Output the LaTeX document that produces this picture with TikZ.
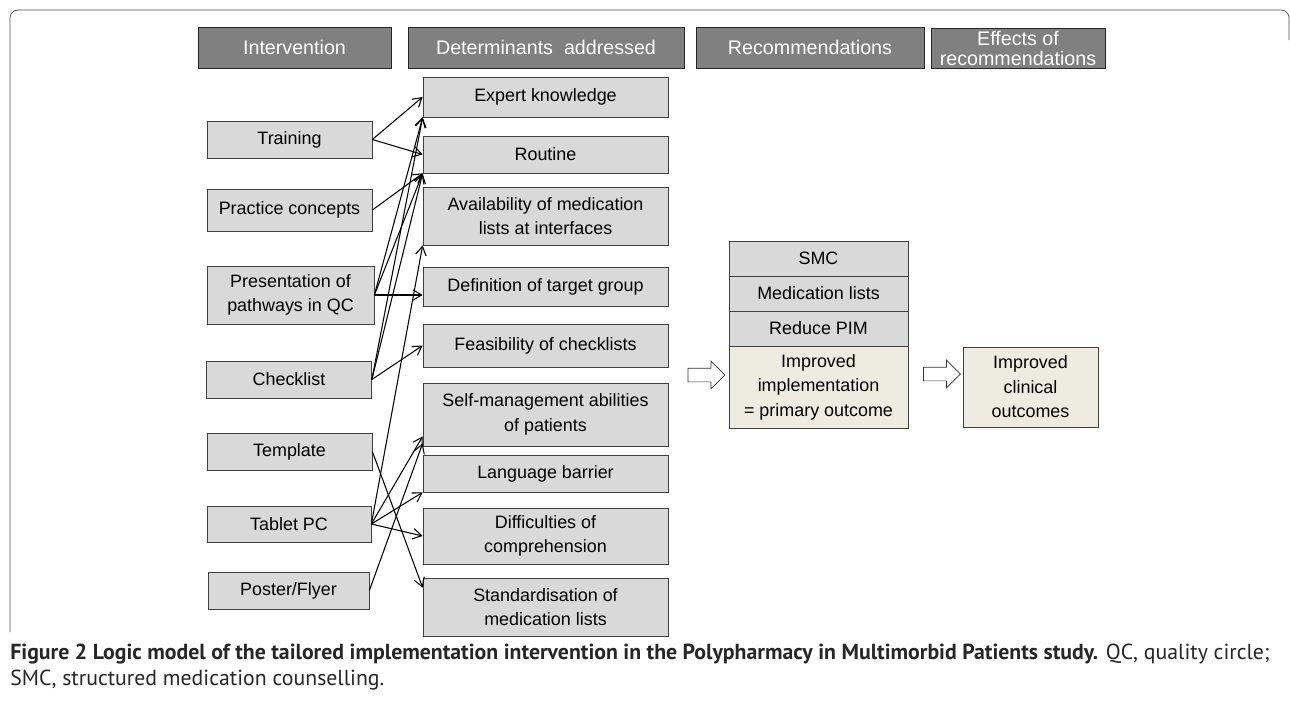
\documentclass[tikz,border=0pt]{standalone}
\usepackage{fontspec}
\setmainfont{Liberation Sans}
\newfontfamily\capfont{PT Sans}
\usetikzlibrary{arrows.meta,shapes.arrows}
\definecolor{hdrgray}{RGB}{128,128,128}
\definecolor{boxgray}{RGB}{217,217,217}
\definecolor{beige}{RGB}{238,236,225}

\begin{document}
\begin{tikzpicture}[x=0.02cm,y=-0.02cm,
  sz/.style 2 args={minimum width=#1*0.02cm,minimum height=#2*0.02cm},
  hdr/.style={draw=black!85,fill=hdrgray,text=white,inner sep=0pt,font=\fontsize{11.2}{11.4}\selectfont},
  box/.style={draw=black!75,fill=boxgray,inner sep=0pt,align=center,font=\fontsize{10.2}{13.9}\selectfont},
  outc/.style={box,fill=beige},
  lnk/.style={-{Straight Barb[length=5pt,width=6pt]},semithick},
  hollow/.style={single arrow,draw=black!80,fill=white,inner sep=0.13cm,minimum width=0pt,
    minimum height=0.74cm,single arrow head extend=0.14cm}]
\useasboundingbox (0,0) rectangle (1290,703);

\draw[black!70,rounded corners=0.16cm] (10,632) -- (10,10) -- (1289,10) -- (1289,40);

\node[hdr,sz={193}{41}] (hint) at (294.5,47.5) {Intervention\hspace{0.45cm}};
\node[hdr,sz={276}{41}] (hdet) at (546,47.5) {Determinants\ \ addressed\hspace{0.5cm}};
\node[hdr,sz={228}{41}] (hrec) at (810,47.5) {Recommendations\hspace{0.5cm}};
\node[hdr,sz={174}{40},align=center] (heff) at (1018,48) {Effects of\\recommendations};

\node[box,sz={165}{37}] (train) at (289.5,139.5) {Training};
\node[box,sz={165}{42}] (pract) at (289.5,210) {Practice concepts};
\node[box,sz={167}{58}] (pres) at (290.5,295) {Presentation of\\pathways in QC};
\node[box,sz={165}{37}] (check) at (289,379.5) {Checklist};
\node[box,sz={165}{37}] (templ) at (289.5,451.5) {Template};
\node[box,sz={164}{36}] (tablet) at (289,524) {Tablet PC};
\node[box,sz={161}{37}] (poster) at (288.5,590.5) {Poster/Flyer};

\node[box,sz={245}{40}] (expert) at (545.5,97) {Expert knowledge};
\node[box,sz={245}{37}] (routine) at (545.5,154.5) {Routine};
\node[box,sz={245}{58}] (avail) at (545.5,216) {Availability of medication\\lists at interfaces};
\node[box,sz={245}{39}] (defn) at (545.5,286.5) {Definition of target group};
\node[box,sz={245}{43}] (feas) at (545.5,345.5) {Feasibility of checklists};
\node[box,sz={245}{63}] (selfm) at (545.5,414.5) {Self-management abilities\\of patients};
\node[box,sz={245}{37}] (lang) at (545.5,473.5) {Language barrier};
\node[box,sz={245}{56}] (diff) at (545.5,536) {Difficulties of\\comprehension};
\node[box,sz={245}{58}] (stdz) at (545.5,607) {Standardisation of\\medication lists};

\node[box,sz={179}{35}] (smc) at (818.5,258.5) {SMC};
\node[box,sz={179}{35}] (medl) at (818.5,293.5) {Medication lists};
\node[box,sz={179}{35}] (rpim) at (818.5,328.5) {Reduce PIM};
\node[outc,sz={179}{82}] (impl) at (818.5,387) {Improved\\implementation\\= primary outcome};
\node[outc,sz={135}{80}] (clin) at (1030.5,387) {Improved\\clinical\\outcomes};

\node[hollow] (harr1) at (703,375) {};
\node[hollow] (harr2) at (938.5,374) {};

\draw[lnk] (train.east) -- (expert.west);
\draw[lnk] (train.east) -- (routine.west);
\draw[lnk] (pract.east) -- (routine.south west);
\draw[lnk] (pres.east) -- (expert.south west);
\draw[lnk] (pres.east) -- (routine.south west);
\draw[lnk] (pres.east) -- (pres.east -| defn.west);
\draw[lnk] (check.east) -- (expert.south west);
\draw[lnk] (check.east) -- (routine.south west);
\draw[lnk] (check.east) -- (feas.west);
\draw[lnk] (templ.east) -- ([yshift=-0.2cm]stdz.north west);
\draw[lnk] (tablet.east) -- (avail.south west);
\draw[lnk] (tablet.east) -- ([yshift=0.2cm]selfm.south west);
\draw[lnk] (tablet.east) -- (lang.south west);
\draw[lnk] (tablet.east) -- (diff.west);
\draw[lnk] (poster.east) -- ([yshift=0.06cm]selfm.south west);

\node[anchor=north west,align=left,inner sep=0pt,text=black!85,
  font=\capfont\fontsize{12.4}{14.8}\selectfont] (cap) at (10,644)
  {\textbf{Figure 2 Logic model of the tailored implementation intervention in the Polypharmacy in Multimorbid Patients study.} QC, quality circle;\\
   SMC, structured medication counselling.};
\end{tikzpicture}
\end{document}
